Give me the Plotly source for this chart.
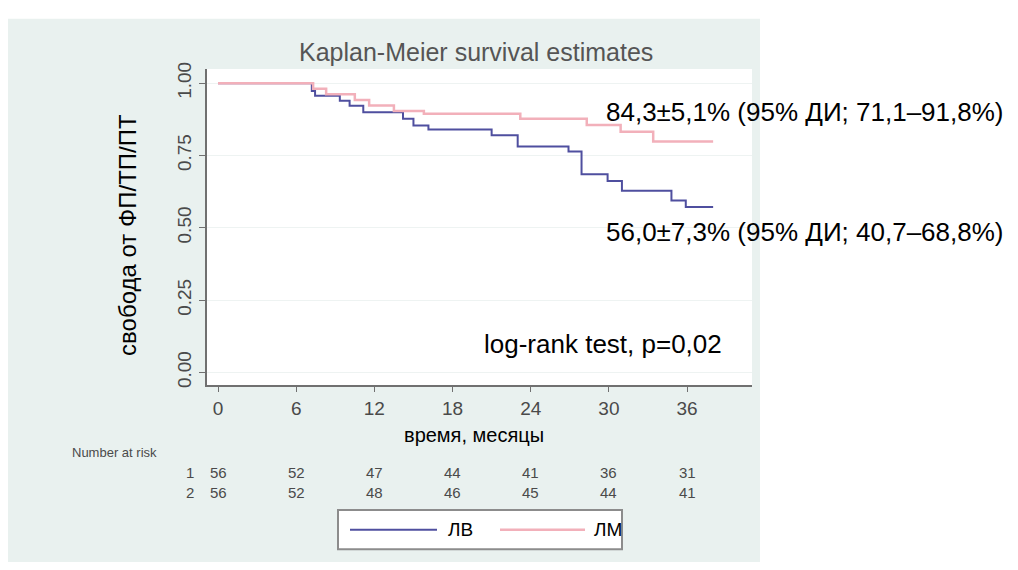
import plotly.graph_objects as go

W, H = 1018, 570

# ---------------- data ----------------
series_names = ["ЛВ", "ЛМ"]
lv_time = [0, 7.2, 7.45, 9.35, 10.1, 11.15, 14.2, 15.0, 16.15, 21.0, 23.0, 26.9, 27.9, 29.9, 31.0, 34.8, 35.9, 38.0]
lv_surv = [1.0, 0.973, 0.956, 0.939, 0.922, 0.899, 0.877, 0.854, 0.840, 0.820, 0.781, 0.764, 0.685, 0.662, 0.628, 0.594, 0.572, 0.572]
lm_time = [0, 7.3, 8.3, 10.5, 11.6, 13.5, 15.8, 23.2, 28.3, 30.9, 33.4, 38.0]
lm_surv = [1.0, 0.981, 0.962, 0.942, 0.923, 0.904, 0.894, 0.877, 0.855, 0.832, 0.798, 0.798]

x_ticks = [0, 6, 12, 18, 24, 30, 36]
y_ticks = [0.0, 0.25, 0.50, 0.75, 1.00]
risk_lv = [56, 52, 47, 44, 41, 36, 31]
risk_lm = [56, 52, 48, 46, 45, 44, 41]

note_lm = "84,3±5,1% (95% ДИ; 71,1–91,8%)"
note_lv = "56,0±7,3% (95% ДИ; 40,7–68,8%)"
note_test = "log-rank test, p=0,02"

colors = ["#4f4f9f", "#f2b0ba"]

def px(x):
    return x / W

def py(y):
    return 1 - y / H

# plot area in pixels
L, R, T, B = 207, 752, 63, 385

fig = go.Figure()
fig.add_trace(go.Scatter(x=lv_time, y=lv_surv, mode="lines", line=dict(color=colors[0], width=2, shape="hv"),
                         name=series_names[0], showlegend=False))
fig.add_trace(go.Scatter(x=lm_time, y=lm_surv, mode="lines", line=dict(color=colors[1], width=2.5, shape="hv"),
                         name=series_names[1], showlegend=False))

gray = "#4a4a4a"
font_main = "Liberation Sans, Arial, Helvetica, sans-serif"

shapes = [
    dict(type="rect", xref="paper", yref="paper", x0=px(8), x1=px(760), y0=py(565), y1=py(12),
         fillcolor="#e9f1ef", line=dict(width=0), layer="below"),
    dict(type="rect", xref="paper", yref="paper", x0=px(L), x1=px(R), y0=py(B), y1=py(T),
         fillcolor="white", line=dict(width=0), layer="below"),
    # legend box
    dict(type="rect", xref="paper", yref="paper", x0=px(338), x1=px(622), y0=py(552), y1=py(512),
         fillcolor="white", line=dict(color="#8c8c8c", width=2), layer="above"),
    dict(type="line", xref="paper", yref="paper", x0=px(350), x1=px(437), y0=py(532), y1=py(532),
         line=dict(color=colors[0], width=2)),
    dict(type="line", xref="paper", yref="paper", x0=px(500), x1=px(585), y0=py(532), y1=py(532),
         line=dict(color=colors[1], width=2.5)),
]

ann = []
ann.append(dict(text="Kaplan-Meier survival estimates", x=px(476), y=py(46), xref="paper", yref="paper",
                showarrow=False, font=dict(family=font_main, size=25, color="#555555"), xanchor="center", yanchor="middle"))
ann.append(dict(text="свобода от ФП/ТП/ПТ", x=px(128), y=py(232), xref="paper", yref="paper", textangle=-90,
                showarrow=False, font=dict(family=font_main, size=24, color="black"), xanchor="center", yanchor="middle"))
ann.append(dict(text="время, месяцы", x=px(474), y=py(436), xref="paper", yref="paper",
                showarrow=False, font=dict(family=font_main, size=20, color="black"), xanchor="center", yanchor="middle"))
for txt, yy in [(note_lm, 107), (note_lv, 229)]:
    ann.append(dict(text=txt, x=px(604), y=py(yy), xref="paper", yref="paper", showarrow=False,
                    font=dict(family=font_main, size=26, color="black"), xanchor="left", yanchor="middle"))
ann.append(dict(text=note_test, x=px(482), y=py(343), xref="paper", yref="paper", showarrow=False,
                font=dict(family=font_main, size=26, color="black"), xanchor="left", yanchor="middle"))
ann.append(dict(text="Number at risk", x=px(70), y=py(453), xref="paper", yref="paper", showarrow=False,
                font=dict(family=font_main, size=13, color=gray), xanchor="left", yanchor="middle"))
for lab, row, yy in [("1", risk_lv, 474), ("2", risk_lm, 494)]:
    ann.append(dict(text=lab, x=px(196), y=py(yy), xref="paper", yref="paper", showarrow=False,
                    font=dict(family=font_main, size=15, color=gray), xanchor="right", yanchor="middle"))
    for t, v in zip(x_ticks, row):
        ann.append(dict(text=str(v), x=t, y=py(yy), xref="x", yref="paper", showarrow=False,
                        font=dict(family=font_main, size=15, color=gray), xanchor="center", yanchor="middle"))
for name, xx in zip(series_names, [446, 592]):
    ann.append(dict(text=name, x=px(xx), y=py(532), xref="paper", yref="paper", showarrow=False,
                    font=dict(family=font_main, size=19, color="black"), xanchor="left", yanchor="middle"))

# axis ranges from pixel geometry: x=0 at 218 px, 13.03 px per month; y=1 at 77.5, y=0 at 372
x0px, xscale = 218, 13.03
y0px, yscale = 372, 294.5
fig.update_layout(
    width=W, height=H, margin=dict(l=0, r=0, t=0, b=0),
    paper_bgcolor="white", plot_bgcolor="rgba(0,0,0,0)",
    showlegend=False, shapes=shapes, annotations=ann,
    xaxis=dict(domain=[px(L), px(R)], range=[(L - x0px) / xscale, (R - x0px) / xscale],
               tickvals=x_ticks, ticktext=[str(v) for v in x_ticks],
               showline=True, linecolor="#707070", linewidth=2, ticks="outside", ticklen=5,
               tickcolor="#707070", showgrid=False, zeroline=False,
               tickfont=dict(family=font_main, size=19, color=gray)),
    yaxis=dict(domain=[py(B), py(T)], range=[(y0px - B) / yscale, (y0px - T) / yscale],
               tickvals=y_ticks, ticktext=[f"{v:.2f}" for v in y_ticks], tickangle=-90,
               showline=True, linecolor="#707070", linewidth=2, ticks="outside", ticklen=6,
               tickcolor="#707070", showgrid=True, gridcolor="#eef3f2", gridwidth=1, zeroline=False,
               tickfont=dict(family=font_main, size=19, color=gray)),
)

fig.write_html("out.html")
